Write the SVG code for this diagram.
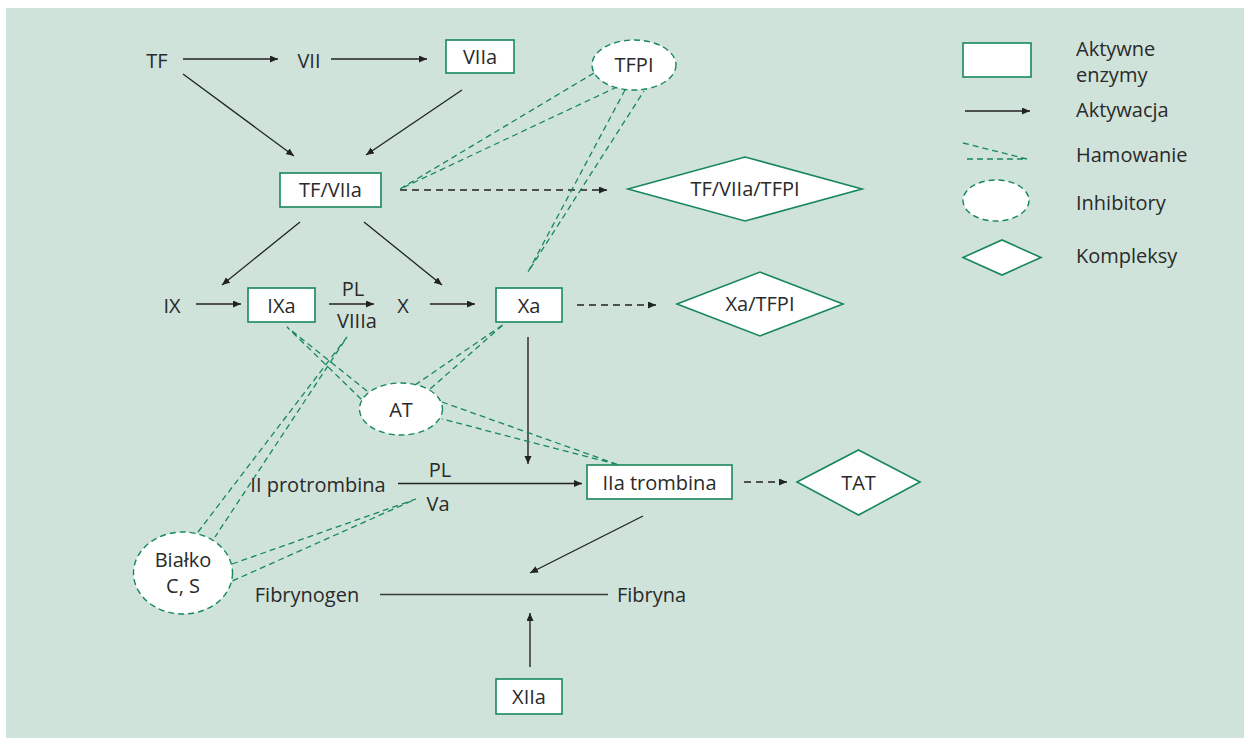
<svg xmlns="http://www.w3.org/2000/svg" width="1244" height="738" viewBox="0 0 1244 738">
<defs>
<marker id="ah" markerUnits="userSpaceOnUse" markerWidth="10" markerHeight="8" refX="8" refY="3.5" orient="auto">
<path d="M0,0 L8,3.5 L0,7 z" fill="#222"/>
</marker>
<style>
text{font-family:"Open Sans","Noto Sans","Liberation Sans",sans-serif;font-size:20px;font-weight:400;fill:#2a2a2a;text-anchor:middle}
.box{fill:#fff;stroke:#17875a;stroke-width:1.6}
.inh{fill:#fff;stroke:#17875a;stroke-width:1.4;stroke-dasharray:6 4}
.act{stroke:#222;stroke-width:1.3;fill:none;marker-end:url(#ah)}
.dact{stroke:#222;stroke-width:1.3;fill:none;stroke-dasharray:7 5;marker-end:url(#ah)}
.hm{stroke:#17875a;stroke-width:1.3;fill:none;stroke-dasharray:6 4}
.pl{stroke:#3a3a3a;stroke-width:1.6;fill:none}
</style>
</defs>
<rect x="0" y="0" width="1244" height="738" fill="#fff"/>
<rect x="6" y="8" width="1238" height="730" fill="#cfe3da"/>

<g id="connectors">
<line class="act" x1="183" y1="59" x2="278" y2="59"/>
<line class="act" x1="331" y1="59" x2="427" y2="59"/>
<line class="act" x1="183" y1="74" x2="294" y2="156"/>
<line class="act" x1="462" y1="90" x2="366" y2="155"/>
<line class="dact" x1="400" y1="190" x2="607" y2="190"/>
<line class="act" x1="300" y1="222" x2="222" y2="285"/>
<line class="act" x1="364" y1="222" x2="442" y2="285"/>
<line class="act" x1="196" y1="304" x2="241" y2="304"/>
<line class="act" x1="329" y1="304" x2="374" y2="304"/>
<line class="act" x1="430" y1="304" x2="475" y2="304"/>
<line class="dact" x1="577" y1="305" x2="656" y2="305"/>
<line class="act" x1="528" y1="337" x2="528" y2="464" style="stroke:#444;stroke-width:1.7"/>
<line class="act" x1="398" y1="483.5" x2="582" y2="483.5"/>
<line class="dact" x1="744" y1="482" x2="787" y2="482"/>
<line class="act" x1="643" y1="516" x2="530" y2="573"/>
<line class="pl" x1="380" y1="594.5" x2="608" y2="594.5"/>
<line class="act" x1="530" y1="667" x2="530" y2="613" style="stroke:#333;stroke-width:1.5"/>
<polyline class="hm" points="594,73 400,189 617,87"/>
<polyline class="hm" points="625,90 528,272 644,91"/>
<polyline class="hm" points="367,391 287,327 362,400"/>
<polyline class="hm" points="415,385 504,324 429,390"/>
<polyline class="hm" points="442,402 619,465 442,419"/>
<polyline class="hm" points="198,532 347,337 215,537"/>
<polyline class="hm" points="232,564 416,499 230,582"/>
</g>

<g id="TF"><text x="157" y="68">TF</text></g>
<g id="VII"><text x="309" y="68">VII</text></g>
<g id="VIIa"><rect class="box" x="446" y="40" width="68" height="33"/><text x="480" y="64">VIIa</text></g>
<g id="TFVIIa"><rect class="box" x="280" y="173" width="101" height="34"/><text x="330.5" y="197">TF/VIIa</text></g>
<g id="TFPI"><ellipse class="inh" cx="634" cy="65" rx="42" ry="25"/><text x="634" y="72">TFPI</text></g>
<g id="TFVIIaTFPI"><polygon class="box" points="628,189 745,157 862,189 745,221"/><text x="745" y="196">TF/VIIa/TFPI</text></g>
<g id="IX"><text x="172" y="313">IX</text></g>
<g id="IXa"><rect class="box" x="248" y="288" width="67" height="34"/><text x="281.5" y="313">IXa</text></g>
<g id="PL1"><text x="353" y="296">PL</text></g>
<g id="VIIIa"><text x="357" y="328">VIIIa</text></g>
<g id="X"><text x="403" y="313">X</text></g>
<g id="Xa"><rect class="box" x="496" y="288" width="66" height="34"/><text x="529" y="313">Xa</text></g>
<g id="XaTFPI"><polygon class="box" points="677,304 760,272 843,304 760,336"/><text x="760" y="311">Xa/TFPI</text></g>
<g id="AT"><ellipse class="inh" cx="401" cy="409" rx="41.5" ry="26"/><text x="401" y="417">AT</text></g>
<g id="II"><text x="318" y="492">II protrombina</text></g>
<g id="PL2"><text x="440" y="477">PL</text></g>
<g id="Va"><text x="438" y="511">Va</text></g>
<g id="IIa"><rect class="box" x="587" y="465" width="145" height="34"/><text x="659.5" y="490">IIa trombina</text></g>
<g id="TAT"><polygon class="box" points="797,482 858.5,450 920,482 858.5,515"/><text x="858.5" y="490">TAT</text></g>
<g id="BialkoCS"><ellipse class="inh" cx="183" cy="573" rx="49.5" ry="41"/><text x="183" y="567">Białko</text><text x="183" y="593">C, S</text></g>
<g id="Fibrynogen"><text x="307" y="602">Fibrynogen</text></g>
<g id="Fibryna"><text x="617" y="602" style="text-anchor:start">Fibryna</text></g>
<g id="XIIa"><rect class="box" x="496" y="679" width="66" height="35"/><text x="529" y="704">XIIa</text></g>

<g id="legend">
<rect class="box" x="963" y="43" width="68" height="34"/>
<line class="act" x1="965" y1="111" x2="1030" y2="111"/>
<polyline class="hm" points="963,143 1027,159 963,159"/>
<ellipse class="inh" cx="996" cy="200.5" rx="33" ry="20.5"/>
<polygon class="box" points="963,257.5 1002,240 1041,257.5 1002,275"/>
<text x="1076" y="56" style="text-anchor:start">Aktywne</text>
<text x="1076" y="82" style="text-anchor:start">enzymy</text>
<text x="1076" y="117" style="text-anchor:start">Aktywacja</text>
<text x="1076" y="162" style="text-anchor:start">Hamowanie</text>
<text x="1076" y="210" style="text-anchor:start">Inhibitory</text>
<text x="1076" y="263" style="text-anchor:start">Kompleksy</text>
</g>
</svg>
